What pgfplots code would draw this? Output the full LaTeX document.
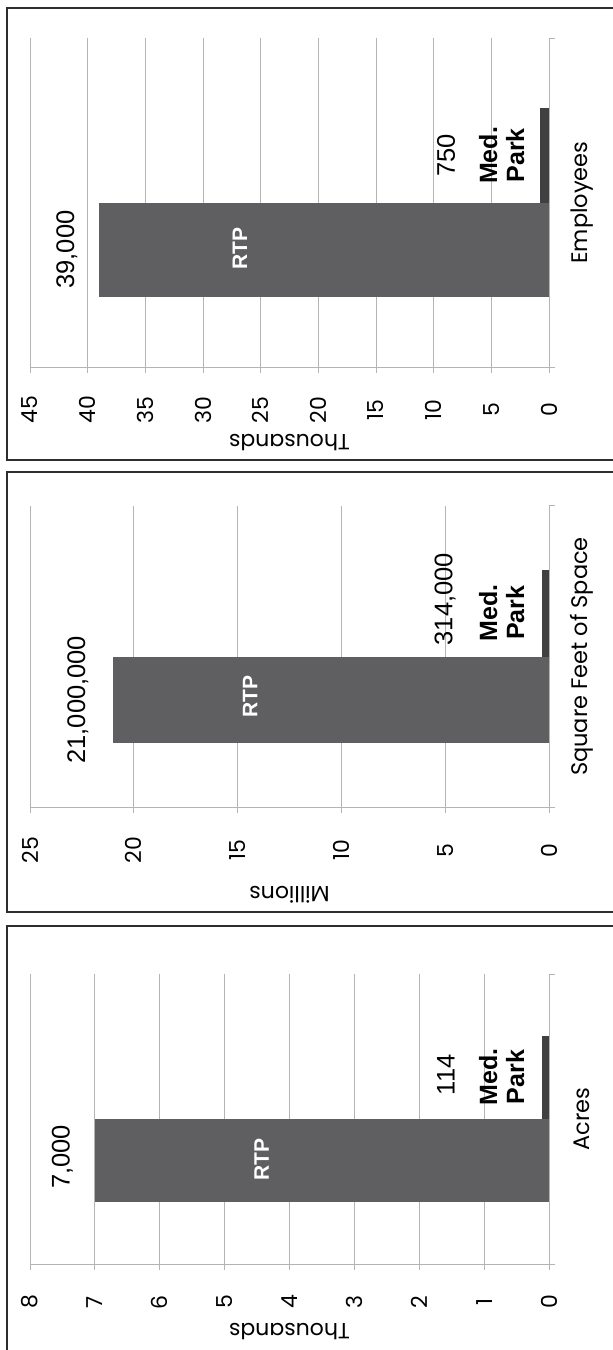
\documentclass[border=0pt]{standalone}
\usepackage{fontspec}
\setmainfont{Poppins}
\newfontfamily\arial{Liberation Sans}
\usepackage{pgfplots}
\pgfplotsset{compat=1.18}
\definecolor{rtp}{HTML}{5F5F62}
\definecolor{med}{HTML}{404043}
\definecolor{gridc}{HTML}{B4B4B4}
\definecolor{framec}{HTML}{2E2E2E}
\pgfplotsset{
  panel/.style={
    scale only axis, width=519pt,
    x dir=reverse, xmin=0, ymin=0, ymax=1,
    axis line style={draw=none},
    xmajorgrids, grid style={gridc, line width=0.9pt},
    ytick=\empty,
    tick align=outside, xtick pos=left,
    major tick length=6pt, tick style={gridc, line width=0.9pt},
    /pgf/number format/assume math mode=true,
    clip=false, anchor=center,
  },
  tl/.style={xticklabel style={font=\fontsize{22}{26}\selectfont, yshift=#1, rotate=90, anchor=center, inner sep=0pt}},
  xl/.style={xlabel style={at={(axis description cs:0.5,#1)}, anchor=center, rotate=180, font=\fontsize{22}{26}\selectfont, inner sep=0pt}},
}
\tikzset{
  val/.style={rotate=90, font=\arial\fontsize{25.5}{28}\selectfont, anchor=center, inner sep=0pt},
  nm/.style={rotate=90, font=\arial\bfseries\fontsize{25}{27}\selectfont, align=center, anchor=center, inner sep=0pt},
  rtpl/.style={rotate=90, font=\arial\bfseries\fontsize{21}{24}\selectfont, text=white, anchor=center, inner sep=0pt},
  cat/.style={rotate=90, font=\fontsize{22.5}{26}\selectfont, anchor=center, inner sep=0pt},
}
\begin{document}
\begin{tikzpicture}
\useasboundingbox (0pt,0pt) rectangle (613pt,-1350pt);
% frames
\draw[framec, line width=1.5pt] (630pt,-8pt) -- (7pt,-8pt) -- (7pt,-460pt) -- (630pt,-460pt);
\draw[framec, line width=1.5pt] (630pt,-472pt) -- (7pt,-472pt) -- (7pt,-912pt) -- (630pt,-912pt);
\draw[framec, line width=1.5pt] (630pt,-926pt) -- (7pt,-926pt) -- (7pt,-1370pt);

% Panel 1: Employees
\begin{axis}[panel, height=329pt, at={(289.5pt,-202.5pt)}, xmax=45, xtick={0,5,...,45},
  tl=-37pt, xl=-0.231, xlabel={Thousands}]
\addplot[xbar, bar width=0.286, bar shift=0pt, fill=rtp, draw=none] coordinates {(39,0.357)};
\addplot[xbar, bar width=0.286, bar shift=0pt, fill=med, draw=none] coordinates {(0.75,0.643)};
\draw[gridc, line width=0.9pt] (axis cs:45,0) -- ([xshift=6pt]axis cs:0,0);
\draw[gridc, line width=0.9pt] (axis cs:0,1) -- ([xshift=6pt]axis cs:0,1);
\node[val] at (axis cs:41.8,0.357) {39,000};
\node[val] at (axis cs:8.93,0.643) {750};
\node[nm] at (axis cs:4.1,0.643) {Med.\\Park};
\node[rtpl] at (axis cs:26.8,0.36) {RTP};
\node[cat] at (axis description cs:1.0636,0.5) {Employees};
\end{axis}

% Panel 2: Square Feet of Space
\begin{axis}[panel, height=301.6pt, at={(289.5pt,-656.5pt)}, xmax=25, xtick={0,5,...,25},
  tl=-37pt, xl=-0.291, xlabel={Millions}]
\addplot[xbar, bar width=0.286, bar shift=0pt, fill=rtp, draw=none] coordinates {(21,0.357)};
\addplot[xbar, bar width=0.286, bar shift=0pt, fill=med, draw=none] coordinates {(0.314,0.643)};
\draw[gridc, line width=0.9pt] (axis cs:25,0) -- ([xshift=6pt]axis cs:0,0);
\draw[gridc, line width=0.9pt] (axis cs:0,1) -- ([xshift=6pt]axis cs:0,1);
\node[val] at (axis cs:22.7,0.357) {21,000,000};
\node[val] at (axis cs:5.0,0.69) {314,000};
\node[nm] at (axis cs:2.28,0.645) {Med.\\Park};
\node[rtpl] at (axis cs:14.4,0.366) {RTP};
\node[cat] at (axis description cs:1.0636,0.5) {Square Feet of Space};
\end{axis}

% Panel 3: Acres
\begin{axis}[panel, height=290pt, at={(289.5pt,-1119pt)}, xmax=8, xtick={0,1,...,8},
  tl=-32pt, xl=-0.233, xlabel={Thousands}]
\addplot[xbar, bar width=0.286, bar shift=0pt, fill=rtp, draw=none] coordinates {(7,0.357)};
\addplot[xbar, bar width=0.286, bar shift=0pt, fill=med, draw=none] coordinates {(0.114,0.643)};
\draw[gridc, line width=0.9pt] (axis cs:8,0) -- ([xshift=6pt]axis cs:0,0);
\draw[gridc, line width=0.9pt] (axis cs:0,1) -- ([xshift=6pt]axis cs:0,1);
\node[val] at (axis cs:7.5,0.37) {7,000};
\node[val] at (axis cs:1.59,0.652) {114};
\node[nm] at (axis cs:0.73,0.645) {Med.\\Park};
\node[rtpl] at (axis cs:4.43,0.359) {RTP};
\node[cat] at (axis description cs:1.0636,0.5) {Acres};
\end{axis}
\end{tikzpicture}
\end{document}
